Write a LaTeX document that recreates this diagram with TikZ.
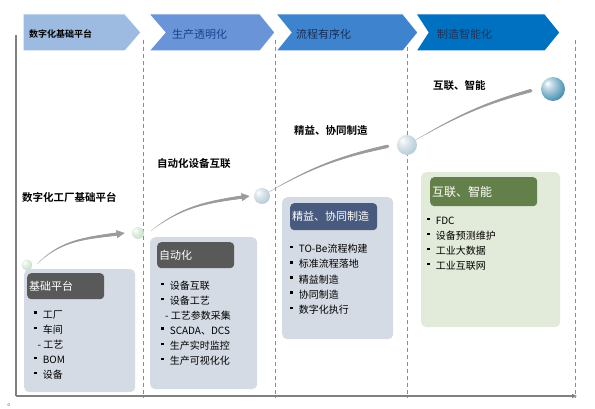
\documentclass[tikz,border=0pt]{standalone}
\usepackage{fontspec}
\setmainfont{Noto Sans CJK SC}[BoldFont={Noto Sans CJK SC Bold}]
\usetikzlibrary{positioning, arrows.meta, decorations.markings}
\definecolor{chevA}{RGB}{157,187,225}
\definecolor{chevB}{RGB}{106,148,216}
\definecolor{chevC}{RGB}{62,131,205}
\definecolor{chevD}{RGB}{0,112,192}
\definecolor{txtB}{RGB}{26,66,140}
\definecolor{txtC}{RGB}{24,46,88}
\definecolor{txtD}{RGB}{30,52,92}
\definecolor{panelgrey}{RGB}{213,219,228}
\definecolor{panelgreen}{RGB}{226,235,218}
\definecolor{hdgrey}{RGB}{89,89,89}
\definecolor{hdnavy}{RGB}{72,90,126}
\definecolor{hdgreen}{RGB}{100,128,74}
\definecolor{flowgrey}{RGB}{155,155,155}
\definecolor{sphG}{RGB}{190,218,190}
\definecolor{sphGd}{RGB}{130,175,130}
\definecolor{sphB}{RGB}{170,195,210}
\definecolor{sphBd}{RGB}{115,145,165}
\definecolor{sphT}{RGB}{80,150,182}
\definecolor{sphTd}{RGB}{36,104,138}
\pgfdeclareradialshading{ballG}{\pgfpoint{-12bp}{12bp}}{color(0bp)=(white); color(14bp)=(sphG!45!white); color(38bp)=(sphG); color(52bp)=(sphGd); color(70bp)=(sphGd)}
\pgfdeclareradialshading{ballB}{\pgfpoint{-12bp}{12bp}}{color(0bp)=(white); color(14bp)=(sphB!45!white); color(38bp)=(sphB); color(52bp)=(sphBd); color(70bp)=(sphBd)}
\pgfdeclareradialshading{ballT}{\pgfpoint{-12bp}{12bp}}{color(0bp)=(white); color(9bp)=(sphT!35!white); color(30bp)=(sphT); color(50bp)=(sphTd); color(70bp)=(sphTd)}
\newcommand{\bul}{\raisebox{4.5pt}{\rule{2.6pt}{2.6pt}}\hspace{6pt}}
\tikzset{
  chev/.style={draw=white, line width=1pt},
  chevtxt/.style={anchor=west, inner sep=0pt, font=\fontsize{11}{11}\selectfont},
  guide/.style={draw=black!45, dash pattern=on 4pt off 3pt, line width=0.8pt},
  axis/.style={draw=black!50, line width=1.1pt},
  panel/.style={rounded corners=5pt, inner sep=0pt, anchor=north west},
  hd/.style={rounded corners=4pt, anchor=north west, inner xsep=2pt, inner ysep=0pt,
    align=left, text=white, font=\fontsize{11}{11}\selectfont},
  itm/.style={anchor=west, inner sep=0pt, font=\fontsize{10}{10}\selectfont, text=black},
  lbl/.style={anchor=west, inner sep=0pt, font=\bfseries\fontsize{10.5}{10.5}\selectfont},
  ball/.style={circle, inner sep=0pt},
  % tapered grey arrow, built from dots that grow along the path
  flow/.style={decoration={markings,
      mark=between positions 0 and 0.95 step 0.5pt with {%
        \pgfmathsetmacro\rad{0.25+1.55*\pgfkeysvalueof{/pgf/decoration/mark info/distance from start}/\pgfdecoratedpathlength}%
        \fill[flowgrey] (0,0) circle (\rad pt);},
      mark=at position 1 with {\arrow[flowgrey]{Triangle[length=8pt,width=8pt]}}},
    decorate}
}
\begin{document}
\begin{tikzpicture}[x=1pt,y=-1pt]
\useasboundingbox (0,0) rectangle (595,409);
% frame and guides
\coordinate (o) at (16,396);
\coordinate (top) at (16,35);
\coordinate (end) at (577,396);
\foreach \x in {143,275,407,575}
	\draw[guide] (\x,40) -- (\x,398);
\draw[axis] (top) -- (o);
\draw[axis,-{Triangle[length=5pt,width=4pt]}] (o) -- (end);
% chevrons
\draw[chev, fill=chevA] (23,14) -- (125,14) -- (141,32.5) -- (125,51) -- (23,51) -- cycle;
\draw[chev, fill=chevB] (149,14) -- (260,14) -- (275,32.5) -- (260,51) -- (149,51) -- (165,32.5) -- cycle;
\draw[chev, fill=chevC] (276,14) -- (403,14) -- (418,32.5) -- (403,51) -- (276,51) -- (291,32.5) -- cycle;
\draw[chev, fill=chevD] (416,14) -- (545,14) -- (560,32.5) -- (545,51) -- (416,51) -- (428,32.5) -- cycle;
\node[chevtxt, font=\bfseries\fontsize{9}{9}\selectfont] (c1) at (29,34) {数字化基础平台};
\node[chevtxt, text=txtB] (c2) at (172,34) {生产透明化};
\node[chevtxt, text=txtC] (c3) at (296,34) {流程有序化};
\node[chevtxt, text=txtD] (c4) at (437,34) {制造智能化};
% panels
\node[panel, fill=panelgrey, minimum width=111pt, minimum height=123pt] (p1) at (24,269) {};
\node[panel, fill=panelgrey, minimum width=107pt, minimum height=152pt] (p2) at (150,237) {};
\node[panel, fill=panelgrey, minimum width=111pt, minimum height=142pt] (p3) at (282,197) {};
\node[panel, fill=panelgreen, minimum width=139pt, minimum height=155pt] (p4) at (421,172) {};
\node[hd, fill=hdgrey, minimum height=26pt, text width=73pt] (h1) at (27,273) {基础平台};
\node[hd, fill=hdgrey, minimum height=26pt, text width=73pt] (h2) at (157,242) {自动化};
\node[hd, fill=hdnavy, minimum height=27pt, text width=83pt] (h3) at (290,203) {精益、协同制造};
\node[hd, fill=hdgreen, minimum height=29pt, text width=103pt,
	font=\fontsize{12}{12}\selectfont] (h4) at (430,177) {互联、智能};
% items
\foreach \t [count=\i from 0] in {{\bul 工厂},{\bul 车间},{\hspace{3.5pt}- 工艺},{\bul BOM},{\bul 设备}}
	\node[itm] (a\i) at (34,315+15*\i) {\t};
\foreach \t [count=\i from 0] in {{\bul 设备互联},{\bul 设备工艺},{\hspace{4pt}- 工艺参数采集},
	{\bul SCADA、DCS},{\bul 生产实时监控},{\bul 生产可视化化}}
	\node[itm] (b\i) at (161,286+15*\i) {\t};
\foreach \t [count=\i from 0] in {{\bul TO-Be流程构建},{\bul 标准流程落地},{\bul 精益制造},
	{\bul 协同制造},{\bul 数字化执行}}
	\node[itm] (d\i) at (290,249+15.2*\i) {\t};
\foreach \t [count=\i from 0] in {{\bul FDC},{\bul 设备预测维护},{\bul 工业大数据},{\bul 工业互联网}}
	\node[itm] (e\i) at (427,221+15*\i) {\t};
% milestones
\node[ball, shading=ballG, minimum size=11pt] (s1) at (27,265) {};
\node[ball, shading=ballG, minimum size=12pt] (s2) at (138,233) {};
\node[ball, shading=ballB, minimum size=16pt] (s3) at (262,196) {};
\node[ball, shading=ballB, minimum size=20pt] (s4) at (407,145) {};
\node[ball, shading=ballT, minimum size=24pt] (s5) at (553,89) {};
\node[lbl] (l1) at (22,197) {数字化工厂基础平台};
\node[lbl] (l2) at (157,164) {自动化设备互联};
\node[lbl] (l3) at (294,131) {精益、协同制造};
\node[lbl] (l4) at (433,86) {互联、智能};
\path[flow] ([shift={(5pt,-2pt)}]s1.30) to[out=45,in=188] ([xshift=-7pt]s2.west);
\path[flow] ([xshift=8pt]s2.25) to[out=38,in=188] ([xshift=-4pt]s3.west);
\path[flow] (s3.30) to[out=30,in=192] ([xshift=-3pt]s4.west);
\path[flow] (s4.30) to[out=30,in=195] ([xshift=-4pt]s5.west);
\node[inner sep=0pt, text=black!60, font=\fontsize{5}{5}\selectfont] (dot) at (9,405) {o};
\end{tikzpicture}
\end{document}
